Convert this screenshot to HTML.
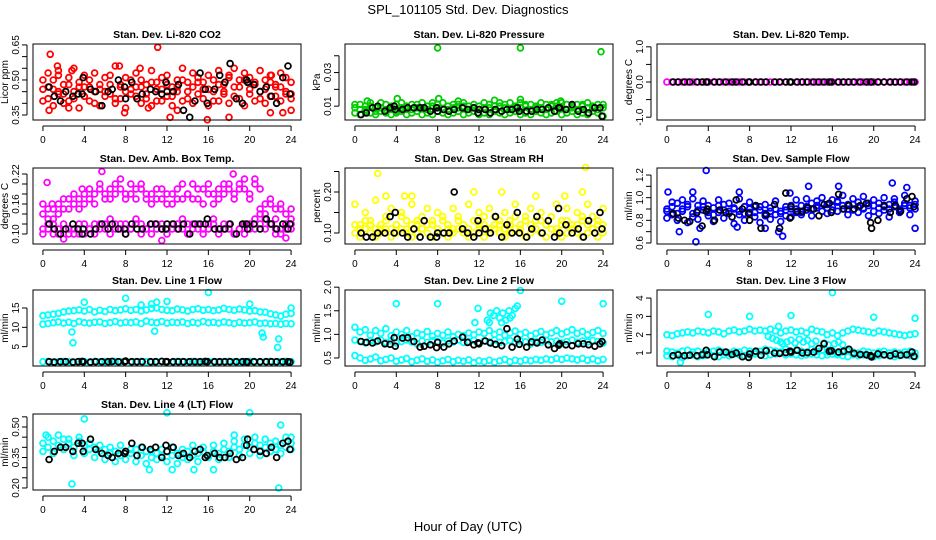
<!DOCTYPE html>
<html><head><meta charset="utf-8"><style>
body{margin:0;background:#fff}
svg{display:block;font-family:"Liberation Sans",sans-serif}
</style></head><body>
<svg id="c" width="936" height="540" viewBox="0 0 936 540" xmlns="http://www.w3.org/2000/svg">
<text x="468" y="14" text-anchor="middle" font-size="13">SPL_101105  Std. Dev. Diagnostics</text>
<text x="468" y="531" text-anchor="middle" font-size="13">Hour of Day (UTC)</text>
</svg>
<script>
const T=[0,0.5,1,1.5,2,2.5,3,3.5,4,4.5,5,5.5,6,6.5,7,7.5,8,8.5,9,9.5,10,10.5,11,11.5,12,12.5,13,13.5,14,14.5,15,15.5,16,16.5,17,17.5,18,18.5,19,19.5,20,20.5,21,21.5,22,22.5,23,23.5,24];
const BT=[0.6,1.1,1.7,2.2,2.9,3.4,3.8,3.9,4.6,5.1,5.7,6.3,6.7,7.3,7.9,8.0,8.6,9.1,9.6,10.4,10.9,11.5,11.9,12.0,12.6,13.1,13.6,14.2,14.7,15.2,15.7,15.9,16.6,17.1,17.6,18.1,18.7,19.3,19.7,19.8,20.4,21.0,21.6,22.1,22.6,23.2,23.7,23.9];
const xTicks=[0,4,8,12,16,20,24];

const co2A=[0.46,0.42,0.50,0.44,0.48,0.41,0.45,0.49,0.43,0.47,0.40,0.46,0.51,0.44,0.42,0.48,0.45,0.50,0.43,0.47,0.44,0.49,0.41,0.46,0.48,0.43,0.45,0.50,0.42,0.47,0.44,0.49,0.46,0.41,0.48,0.45,0.51,0.43,0.47,0.50,0.44,0.48,0.42,0.46,0.49,0.43,0.47,0.45,0.44];
const co2B=[0.41,0.47,0.39,0.45,0.40,0.48,0.42,0.38,0.47,0.41,0.45,0.39,0.43,0.48,0.40,0.42,0.38,0.44,0.47,0.40,0.42,0.39,0.46,0.41,0.43,0.39,0.47,0.41,0.45,0.40,0.49,0.42,0.39,0.45,0.41,0.44,0.40,0.47,0.42,0.39,0.46,0.41,0.45,0.40,0.43,0.47,0.41,0.44,0.42];
const co2C=[0.50,0.53,0.46,0.52,0.44,0.51,0.55,0.47,0.52,0.50,0.53,0.48,0.45,0.52,0.56,0.47,0.51,0.46,0.53,0.50,0.48,0.54,0.49,0.51,0.52,0.47,0.50,0.55,0.49,0.53,0.51,0.46,0.52,0.50,0.54,0.48,0.52,0.55,0.50,0.53,0.51,0.49,0.54,0.50,0.52,0.48,0.53,0.51,0.49];
const co2OutT=[0.7,1.4,1.5,2.8,7.4,9.4,11.1,12.3,15.9,18,22.1,7.9,0.6,2.5,13,23.2,24,10.2,22];
const co2OutV=[0.61,0.56,0.54,0.54,0.56,0.55,0.64,0.34,0.33,0.34,0.52,0.36,0.37,0.38,0.37,0.36,0.37,0.38,0.36];
const co2Blk=[0.47,0.43,0.41,0.45,0.43,0.44,0.44,0.51,0.46,0.45,0.39,0.45,0.46,0.50,0.47,0.42,0.49,0.42,0.44,0.46,0.45,0.44,0.49,0.45,0.45,0.48,0.37,0.34,0.41,0.53,0.46,0.40,0.46,0.52,0.49,0.57,0.42,0.40,0.50,0.49,0.48,0.45,0.47,0.43,0.40,0.51,0.56,0.44];

const prA=[0.009,0.011,0.008,0.010,0.009,0.012,0.008,0.010,0.011,0.009,0.010,0.008,0.011,0.009,0.010,0.012,0.009,0.008,0.010,0.011,0.009,0.010,0.008,0.011,0.010,0.009,0.011,0.008,0.010,0.009,0.012,0.010,0.009,0.011,0.008,0.010,0.009,0.011,0.010,0.012,0.009,0.011,0.010,0.008,0.011,0.009,0.010,0.011,0.009];
const prB=[0.006,0.005,0.007,0.006,0.005,0.007,0.006,0.005,0.006,0.007,0.005,0.006,0.007,0.005,0.006,0.005,0.007,0.006,0.005,0.006,0.007,0.005,0.006,0.007,0.005,0.006,0.005,0.007,0.006,0.005,0.006,0.007,0.005,0.006,0.005,0.007,0.006,0.005,0.006,0.007,0.005,0.006,0.007,0.005,0.006,0.005,0.007,0.006,0.004];
const prC=[0.011,0.008,0.010,0.012,0.007,0.009,0.011,0.008,0.007,0.012,0.008,0.011,0.009,0.012,0.008,0.010,0.011,0.012,0.008,0.009,0.011,0.012,0.010,0.009,0.008,0.012,0.009,0.010,0.012,0.011,0.008,0.009,0.012,0.010,0.011,0.009,0.012,0.008,0.011,0.010,0.012,0.008,0.009,0.011,0.010,0.012,0.009,0.008,0.011];
const prOutT=[8,16,23.8,1.2,4.1,10,13.5,19.9,8.1,16];
const prOutV=[0.0447,0.0447,0.0424,0.013,0.0145,0.013,0.0135,0.013,0.0145,0.014];
const prBlk=[0.005,0.006,0.009,0.010,0.007,0.009,0.010,0.008,0.008,0.009,0.009,0.009,0.009,0.007,0.009,0.007,0.008,0.007,0.008,0.009,0.008,0.009,0.006,0.008,0.008,0.006,0.008,0.007,0.008,0.008,0.009,0.007,0.007,0.007,0.008,0.008,0.009,0.007,0.009,0.009,0.008,0.011,0.007,0.008,0.006,0.009,0.009,0.004];

const tmpV=[0,0,0,0,0,0,0,0,0,0,0,0,0,0,0,0,0,0,0,0,0,0,0,0,0,0,0,0,0,0,0,0,0,0,0,0,0,0,0,0,0,0,0,0,0,0,0,0,0];
const tmpBlk=[0,0,0,0,0,0,0,0,0,0,0,0,0,0,0,0,0,0,0,0,0,0,0,0,0,0,0,0,0,0,0,0,0,0,0,0,0,0,0,0,0,0,0,0,0,0,0,0];

const ambU=[0.14,0.15,0.13,0.16,0.15,0.17,0.16,0.15,0.18,0.17,0.16,0.19,0.18,0.17,0.20,0.19,0.18,0.20,0.17,0.19,0.18,0.16,0.19,0.17,0.18,0.16,0.19,0.17,0.18,0.20,0.17,0.19,0.18,0.16,0.19,0.18,0.20,0.17,0.19,0.21,0.18,0.20,0.19,0.16,0.17,0.15,0.16,0.14,0.15];
const ambU2=[0.16,0.13,0.15,0.14,0.17,0.15,0.18,0.17,0.16,0.19,0.18,0.20,0.17,0.19,0.18,0.21,0.17,0.18,0.19,0.20,0.17,0.18,0.17,0.19,0.16,0.18,0.17,0.20,0.18,0.17,0.19,0.16,0.20,0.18,0.17,0.20,0.19,0.18,0.20,0.19,0.17,0.21,0.15,0.14,0.16,0.13,0.15,0.12,0.13];
const ambL=[0.11,0.12,0.10,0.11,0.12,0.10,0.11,0.10,0.12,0.11,0.12,0.11,0.12,0.13,0.12,0.11,0.12,0.11,0.13,0.12,0.11,0.12,0.11,0.12,0.11,0.12,0.11,0.13,0.12,0.11,0.12,0.11,0.12,0.13,0.11,0.12,0.11,0.10,0.11,0.12,0.11,0.13,0.12,0.11,0.12,0.10,0.11,0.12,0.11];
const ambL2=[0.10,0.11,0.12,0.10,0.09,0.11,0.10,0.12,0.10,0.11,0.10,0.12,0.11,0.10,0.11,0.12,0.10,0.11,0.12,0.10,0.11,0.10,0.12,0.11,0.10,0.11,0.12,0.11,0.10,0.12,0.11,0.10,0.11,0.12,0.10,0.11,0.12,0.10,0.11,0.10,0.12,0.11,0.14,0.13,0.12,0.11,0.10,0.11,0.12];
const ambOutT=[0.4,5.7,11.5,0.9,3.8,18.4,23.5];
const ambOutV=[0.203,0.225,0.087,0.16,0.19,0.22,0.092];
const ambBlk=[0.12,0.11,0.10,0.11,0.12,0.11,0.10,0.11,0.10,0.11,0.12,0.11,0.12,0.11,0.11,0.10,0.12,0.11,0.11,0.12,0.12,0.11,0.11,0.12,0.12,0.11,0.12,0.10,0.12,0.12,0.12,0.13,0.11,0.11,0.11,0.12,0.10,0.12,0.12,0.11,0.12,0.11,0.13,0.12,0.11,0.12,0.11,0.12];

const rhA=[0.10,0.09,0.11,0.10,0.09,0.10,0.11,0.09,0.10,0.11,0.10,0.09,0.10,0.11,0.10,0.09,0.11,0.10,0.09,0.10,0.11,0.10,0.09,0.10,0.11,0.09,0.10,0.11,0.10,0.09,0.10,0.11,0.10,0.09,0.10,0.11,0.10,0.09,0.11,0.10,0.09,0.10,0.11,0.10,0.09,0.10,0.11,0.09,0.10];
const rhB=[0.17,0.12,0.15,0.13,0.18,0.11,0.14,0.16,0.12,0.15,0.13,0.17,0.12,0.14,0.16,0.12,0.15,0.13,0.11,0.16,0.14,0.12,0.17,0.13,0.15,0.12,0.16,0.14,0.12,0.15,0.13,0.17,0.12,0.14,0.16,0.13,0.15,0.12,0.14,0.17,0.13,0.16,0.12,0.15,0.13,0.17,0.14,0.12,0.16];
const rhC=[0.12,0.11,0.13,0.12,0.11,0.12,0.13,0.11,0.12,0.14,0.11,0.12,0.13,0.11,0.12,0.13,0.11,0.14,0.12,0.11,0.13,0.12,0.11,0.13,0.12,0.14,0.11,0.12,0.13,0.11,0.12,0.14,0.11,0.13,0.12,0.11,0.13,0.12,0.14,0.11,0.12,0.13,0.11,0.12,0.14,0.12,0.11,0.13,0.12];
const rhOutT=[22.3,2.2,3.0,4.8,5.5,11.5,14.2,17.5,20.3,22];
const rhOutV=[0.26,0.245,0.19,0.19,0.19,0.20,0.20,0.19,0.19,0.20];
const rhBlk=[0.10,0.09,0.09,0.10,0.10,0.14,0.10,0.15,0.10,0.09,0.11,0.09,0.13,0.09,0.09,0.10,0.10,0.10,0.20,0.11,0.10,0.09,0.13,0.10,0.11,0.10,0.14,0.09,0.12,0.10,0.15,0.10,0.09,0.11,0.14,0.10,0.13,0.09,0.16,0.10,0.12,0.10,0.11,0.09,0.13,0.10,0.15,0.11];

const sfA=[0.90,0.85,0.95,0.88,0.92,0.86,0.93,0.89,0.84,0.91,0.87,0.94,0.88,0.90,0.85,0.92,0.87,0.83,0.89,0.86,0.91,0.85,0.88,0.84,0.90,0.87,0.93,0.89,0.95,0.91,0.88,0.94,0.92,0.97,0.90,0.94,0.89,0.96,0.91,0.93,0.88,0.95,0.92,0.90,0.96,0.89,0.93,0.91,0.94];
const sfB=[0.82,0.96,0.80,0.98,0.78,0.99,0.81,0.97,0.93,0.79,0.98,0.82,0.95,0.77,0.99,0.80,0.96,0.92,0.78,0.94,0.81,0.97,0.79,0.92,0.83,0.98,0.85,0.99,0.84,0.97,1.00,0.86,0.98,0.88,1.02,0.85,0.99,0.87,1.01,0.84,0.98,0.86,1.00,0.83,0.99,0.87,1.02,0.85,0.97];
const sfC=[0.88,0.92,0.86,0.90,0.94,0.83,0.89,0.92,0.87,0.85,0.93,0.89,0.86,0.91,0.88,0.86,0.90,0.87,0.92,0.84,0.88,0.90,0.86,0.89,0.93,0.90,0.87,0.92,0.90,0.93,0.95,0.91,0.89,0.96,0.93,0.90,0.94,0.92,0.90,0.95,0.93,0.91,0.89,0.94,0.92,0.90,0.95,0.93,0.90];
const sfOutT=[3.8,2.8,1.2,11.2,10.8,13.7,16.6,21.8,23.2,24,0.1,2.5,11.9,7,3.2,6.8,9.5];
const sfOutV=[1.24,0.61,0.70,0.66,0.70,1.10,1.10,1.13,1.09,0.73,1.05,1.05,1.04,1.05,0.73,0.74,0.73];
const sfBlk=[0.86,0.82,0.80,0.79,0.87,0.75,0.88,0.90,0.80,0.89,0.87,0.83,0.98,0.90,0.86,0.80,0.93,0.73,0.85,0.94,0.73,1.04,0.82,0.92,0.88,0.88,0.91,0.90,0.84,0.94,0.95,0.87,1.03,0.90,0.93,0.90,0.93,0.95,0.78,0.73,0.80,0.93,0.87,0.93,0.88,0.99,1.01,0.92];

const l1U=[13,13.2,13.4,13.6,14,14.2,14.3,14.5,14.2,14.6,14,14.4,14.1,14.6,14.3,14.5,14.8,14.4,14.6,14.2,14.5,14.9,15.0,14.6,14.4,14.3,14.7,14.5,14.2,14.6,14.8,14.4,14.6,14.3,14.5,14.9,14.6,14.4,14.7,14.5,14.2,14.3,14,13.9,13.5,13.2,12.9,13.4,13.6];
const l1M=[10.8,11.0,11.2,11.4,11.1,11.3,11.0,11.5,11.2,11.1,11.3,11.4,11.0,11.2,11.5,11.1,11.3,11.2,11.4,11.0,11.6,11.3,11.2,11.5,11.1,11.3,11.2,11.4,11.0,11.3,11.1,11.5,11.2,11.3,11.1,11.4,11.2,11.0,11.3,11.1,11.2,11.4,11.0,11.1,10.9,11.0,10.8,11.0,10.9];
const l1L=[1.1,1.2,1.0,1.1,1.2,1.1,1.0,1.2,1.1,1.0,1.2,1.1,1.1,1.0,1.2,1.1,1.2,1.0,1.1,1.2,1.1,1.0,1.1,1.2,1.1,1.0,1.2,1.1,1.1,1.2,1.0,1.1,1.2,1.1,1.0,1.1,1.2,1.1,1.0,1.1,1.2,1.1,1.0,1.1,1.2,1.0,1.1,1.2,1.1];
const l1OutT=[4,8,16,20,24,2.8,2.9,10.8,21.2,21.3,22.7,22.8,11,12,9.5,10.5];
const l1OutV=[16.5,17.5,19,16,15,8.8,6,9,8.5,7.5,4.8,7,16.5,16.7,15.8,16];
const l1Blk=[1.1,1.0,1.1,1.1,1.0,1.1,1.2,1.1,1.0,1.1,1.1,1.1,1.2,1.1,1.1,1.3,1.1,1.1,1.1,1.1,1.1,1.2,1.1,1.1,1.1,1.1,1.1,1.1,1.1,1.1,1.2,1.1,1.1,1.1,1.1,1.1,1.1,1.1,1.1,1.0,1.1,1.1,1.1,1.1,1.1,1.1,1.1,1.0];

const l2U=[1.15,1.05,1.10,0.98,1.08,1.02,1.12,0.97,1.05,1.00,1.08,0.95,1.03,0.99,1.06,0.96,1.02,0.98,1.05,0.95,1.00,0.97,1.03,0.99,1.05,1.02,1.08,1.00,1.05,0.98,1.03,1.07,1.00,1.04,0.97,1.02,1.06,0.99,1.03,1.08,1.01,1.05,1.10,1.02,1.06,0.99,1.04,1.08,1.02];
const l2M=[0.88,0.85,0.82,0.87,0.84,0.88,0.83,0.86,0.82,0.85,0.88,0.84,0.80,0.86,0.83,0.87,0.85,0.82,0.86,0.84,0.88,0.83,0.85,0.87,0.82,0.86,0.84,0.88,0.83,0.85,0.87,0.82,0.86,0.84,0.80,0.85,0.83,0.87,0.84,0.86,0.82,0.85,0.88,0.83,0.86,0.84,0.87,0.85,0.82];
const l2L=[0.55,0.50,0.45,0.48,0.52,0.44,0.47,0.50,0.43,0.46,0.49,0.42,0.45,0.48,0.43,0.46,0.41,0.44,0.47,0.42,0.45,0.43,0.46,0.40,0.44,0.42,0.45,0.41,0.44,0.47,0.42,0.45,0.43,0.46,0.44,0.47,0.45,0.48,0.46,0.49,0.47,0.50,0.48,0.46,0.49,0.45,0.48,0.44,0.47];
const l2OutT=[12.8,13.1,13.4,13.7,14.0,14.3,14.6,14.9,15.2,15.5,15.7,13.0,14.2,15.0,4,8,16,20,24,11.9,11.6];
const l2OutV=[1.3,1.45,1.4,1.5,1.35,1.45,1.3,1.5,1.4,1.55,1.6,1.25,1.25,1.35,1.65,1.65,1.93,1.7,1.65,1.55,1.25];
const l2Blk=[0.85,0.83,0.82,0.86,0.80,0.79,0.93,0.75,0.92,0.93,0.85,0.73,0.75,0.78,0.72,0.83,0.73,0.80,0.86,0.94,0.83,0.78,0.82,0.80,0.86,0.82,0.79,0.76,1.12,0.73,0.90,0.79,0.73,0.84,0.82,0.88,0.78,0.70,0.77,0.80,0.78,0.76,0.80,0.80,0.78,0.75,0.80,0.85];

const l3U=[2.0,1.95,2.05,2.1,2.15,2.1,2.2,2.15,2.1,2.2,2.15,2.05,2.2,2.25,2.15,2.2,2.3,2.2,2.25,2.2,2.3,2.2,2.1,2.2,2.25,2.15,2.2,2.1,2.3,2.2,2.15,2.0,2.1,1.95,2.1,2.2,2.3,2.25,2.2,2.15,2.1,2.2,2.15,2.1,2.05,2.0,1.95,2.0,2.05];
const l3M=[1.1,1.05,1.0,1.1,1.15,1.05,1.1,1.0,1.05,1.1,1.15,1.05,1.0,1.1,1.05,1.15,1.1,1.05,1.1,1.2,1.15,1.1,1.05,1.2,1.1,1.15,1.1,1.05,1.2,1.1,1.15,1.05,1.1,1.0,1.05,1.1,1.05,1.0,1.1,1.05,1.0,1.05,1.1,1.0,1.05,1.0,1.05,1.1,1.0];
const l3L=[0.85,0.8,0.9,0.75,0.85,0.9,0.8,0.85,0.9,0.85,0.8,0.9,0.85,0.95,0.9,0.85,0.9,0.95,0.9,0.85,0.9,0.95,1.0,0.9,0.95,0.9,0.85,0.9,0.95,0.9,0.85,0.9,0.95,0.9,0.85,0.8,0.9,0.85,0.9,0.85,0.8,0.85,0.9,0.85,0.8,0.85,0.9,0.85,0.8];
const l3OutT=[11.2,11.6,12.0,12.4,12.8,13.2,13.6,14.0,14.4,15.2,15.6,16.2,16.6,17.0,9.8,10.2,10.6,11.0,4,8,12,16,20,24,1.3,10.8];
const l3OutV=[1.5,1.6,1.7,1.55,1.75,1.6,1.7,1.5,1.65,1.55,1.45,1.5,1.6,1.45,1.9,1.8,1.7,1.6,3.1,3.0,3.05,4.3,2.95,2.9,0.5,2.45];
const l3Blk=[0.85,0.9,0.85,0.88,0.85,0.9,1.15,0.9,0.8,1.05,1.05,0.92,1.0,0.8,0.76,0.95,1.1,0.88,1.12,1.0,0.98,1.02,1.1,1.05,1.15,1.0,1.02,1.05,1.25,1.5,1.1,1.12,1.05,1.1,1.2,0.98,0.92,0.9,0.85,0.78,0.95,0.9,0.85,0.95,0.88,0.9,1.05,0.82];

const l4A=[0.42,0.40,0.43,0.41,0.44,0.42,0.40,0.43,0.41,0.39,0.40,0.38,0.39,0.37,0.38,0.36,0.38,0.37,0.39,0.36,0.38,0.35,0.37,0.36,0.38,0.36,0.37,0.35,0.38,0.36,0.37,0.38,0.36,0.38,0.37,0.39,0.38,0.40,0.39,0.41,0.40,0.42,0.41,0.40,0.42,0.39,0.41,0.40,0.42];
const l4B=[0.38,0.45,0.37,0.46,0.39,0.44,0.36,0.45,0.37,0.42,0.35,0.41,0.34,0.40,0.33,0.41,0.34,0.39,0.33,0.40,0.32,0.38,0.34,0.39,0.33,0.40,0.32,0.39,0.34,0.41,0.33,0.40,0.35,0.41,0.34,0.42,0.35,0.43,0.36,0.44,0.37,0.45,0.36,0.44,0.38,0.43,0.37,0.45,0.39];
const l4OutT=[0.3,4,2.8,12,20,22.8,23,10.3,12.5,14.6,16.5,18.5,24];
const l4OutV=[0.46,0.54,0.22,0.57,0.57,0.20,0.51,0.29,0.29,0.29,0.29,0.46,0.45];
const l4Blk=[0.34,0.38,0.40,0.40,0.38,0.42,0.42,0.38,0.44,0.39,0.37,0.36,0.35,0.37,0.37,0.38,0.42,0.36,0.40,0.39,0.40,0.35,0.41,0.38,0.40,0.36,0.37,0.35,0.38,0.39,0.35,0.36,0.37,0.35,0.35,0.37,0.34,0.35,0.41,0.44,0.39,0.38,0.37,0.40,0.35,0.42,0.43,0.39];

const svg=document.getElementById('c');
const NS='http://www.w3.org/2000/svg';
function mk(tag,at,parent){const e=document.createElementNS(NS,tag);for(const k in at)e.setAttribute(k,at[k]);(parent||svg).appendChild(e);return e;}
const COLS=[33,345,657], ROWS=[44,168,290,414], W=268, H=76;

function panel(key,col,row,title,ylab,ymin,ymax,yt,yl,series){
  const L=COLS[col],Tp=ROWS[row],B=Tp+H;
  const g=mk('g',{});
  
  
  const xs=t=>L+(t+0.96)*W/25.92;
  const ys=v=>B-(v-ymin)/(ymax-ymin)*H;
  const tt=mk('text',{x:L+W/2,y:Tp-6,'text-anchor':'middle','font-size':10.5,'font-weight':'bold'},g);
  tt.textContent=title;
  
  
  const pts=mk('g',{fill:'none','stroke-width':1.8},g);
  
  
  series.forEach(s=>{
    for(let i=0;i<s.v.length;i++){
      const t=s.t[i]; if(t===undefined)continue;
      const c=mk('circle',{cx:xs(t).toFixed(1),cy:ys(s.v[i]).toFixed(1),r:2.9,stroke:s.c},pts);
      
      
    }
  });
  const box=mk('rect',{x:L,y:Tp,width:W,height:H,fill:'none',stroke:'#000','stroke-width':1},g);
  
  
  const xa=mk('g',{},g);
  
  
  mk('line',{x1:xs(0),x2:xs(24),y1:B+6,y2:B+6,stroke:'#000'},xa);
  xTicks.forEach(t=>{
    mk('line',{x1:xs(t),x2:xs(t),y1:B+6,y2:B+11,stroke:'#000'},xa);
    const lb=mk('text',{x:xs(t),y:B+23,'text-anchor':'middle','font-size':10},xa);
    lb.textContent=t;
  });
  const ya=mk('g',{},g);
  
  
  const ax=L-6;
  mk('line',{x1:ax,x2:ax,y1:ys(yt[0]),y2:ys(yt[yt.length-1]),stroke:'#000'},ya);
  yt.forEach(v=>mk('line',{x1:ax-5,x2:ax,y1:ys(v),y2:ys(v),stroke:'#000'},ya));
  yl.forEach(s=>{
    const y=ys(parseFloat(s));
    const lb=mk('text',{x:ax-8,y:y,'text-anchor':'middle','font-size':10,transform:`rotate(-90 ${ax-8} ${y})`},ya);
    lb.textContent=s;
  });
  const yt2=mk('text',{x:L-25,y:Tp+H/2,'text-anchor':'middle','font-size':10,transform:`rotate(-90 ${L-25} ${Tp+H/2})`},g);
  yt2.textContent=ylab;
  
  
}
const K='#000';
panel('co2',0,0,'Stan. Dev. Li-820 CO2','Licor ppm',0.3286,0.654,[0.35,0.40,0.45,0.50,0.55,0.60,0.65],['0.35','0.50','0.65'],
 [{t:T,v:co2A,c:'#f00'},{t:T,v:co2B,c:'#f00'},{t:T,v:co2C,c:'#f00'},{t:co2OutT,v:co2OutV,c:'#f00'},{t:BT,v:co2Blk,c:K}]);
panel('pressure',1,0,'Stan. Dev. Li-820 Pressure','kPa',0.00176,0.047,[0.01,0.02,0.03,0.04],['0.01','0.03'],
 [{t:T,v:prA,c:'#0c0'},{t:T,v:prB,c:'#0c0'},{t:T,v:prC,c:'#0c0'},{t:prOutT,v:prOutV,c:'#0c0'},{t:BT,v:prBlk,c:K}]);
panel('temp',2,0,'Stan. Dev. Li-820 Temp.','degrees C',-1.08,1.08,[-1,-0.5,0,0.5,1],['-1.0','0.0','1.0'],
 [{t:T,v:tmpV,c:'#f0f'},{t:BT,v:tmpBlk,c:K}]);
panel('amb-temp',0,1,'Stan. Dev. Amb. Box Temp.','degrees C',0.08,0.232,[0.10,0.12,0.14,0.16,0.18,0.20,0.22],['0.10','0.16','0.22'],
 [{t:T,v:ambU,c:'#f0f'},{t:T,v:ambU2,c:'#f0f'},{t:T,v:ambL,c:'#f0f'},{t:T,v:ambL2,c:'#f0f'},{t:ambOutT,v:ambOutV,c:'#f0f'},{t:BT,v:ambBlk,c:K}]);
panel('rh',1,1,'Stan. Dev. Gas Stream RH','percent',0.0732,0.2585,[0.10,0.15,0.20,0.25],['0.10','0.20'],
 [{t:T,v:rhA,c:'#ff0'},{t:T,v:rhB,c:'#ff0'},{t:T,v:rhC,c:'#ff0'},{t:rhOutT,v:rhOutV,c:'#ff0'},{t:BT,v:rhBlk,c:K}]);
panel('sample-flow',2,1,'Stan. Dev. Sample Flow','ml/min',0.591,1.262,[0.6,0.7,0.8,0.9,1.0,1.1,1.2],['0.6','0.8','1.0','1.2'],
 [{t:T,v:sfA,c:'#00f'},{t:T,v:sfB,c:'#00f'},{t:T,v:sfC,c:'#00f'},{t:sfOutT,v:sfOutV,c:'#00f'},{t:BT,v:sfBlk,c:K}]);
panel('line1',0,2,'Stan. Dev. Line 1 Flow','ml/min',0,19.65,[5,10,15],['5','10','15'],
 [{t:T,v:l1U,c:'#0ff'},{t:T,v:l1M,c:'#0ff'},{t:T,v:l1L,c:'#0ff'},{t:l1OutT,v:l1OutV,c:'#0ff'},{t:BT,v:l1Blk,c:K}]);
panel('line2',1,2,'Stan. Dev. Line 2 Flow','ml/min',0.33,1.94,[0.5,1.0,1.5,2.0],['0.5','1.0','1.5','2.0'],
 [{t:T,v:l2U,c:'#0ff'},{t:T,v:l2M,c:'#0ff'},{t:T,v:l2L,c:'#0ff'},{t:l2OutT,v:l2OutV,c:'#0ff'},{t:BT,v:l2Blk,c:K}]);
panel('line3',2,2,'Stan. Dev. Line 3 Flow','ml/min',0.29,4.44,[1,2,3,4],['1','2','3','4'],
 [{t:T,v:l3U,c:'#0ff'},{t:T,v:l3M,c:'#0ff'},{t:T,v:l3L,c:'#0ff'},{t:l3OutT,v:l3OutV,c:'#0ff'},{t:BT,v:l3Blk,c:K}]);
panel('line4',0,3,'Stan. Dev. Line 4 (LT) Flow','ml/min',0.19,0.564,[0.20,0.25,0.30,0.35,0.40,0.45,0.50,0.55],['0.20','0.35','0.50'],
 [{t:T,v:l4A,c:'#0ff'},{t:T,v:l4B,c:'#0ff'},{t:l4OutT,v:l4OutV,c:'#0ff'},{t:BT,v:l4Blk,c:K}]);
</script>
</body></html>
